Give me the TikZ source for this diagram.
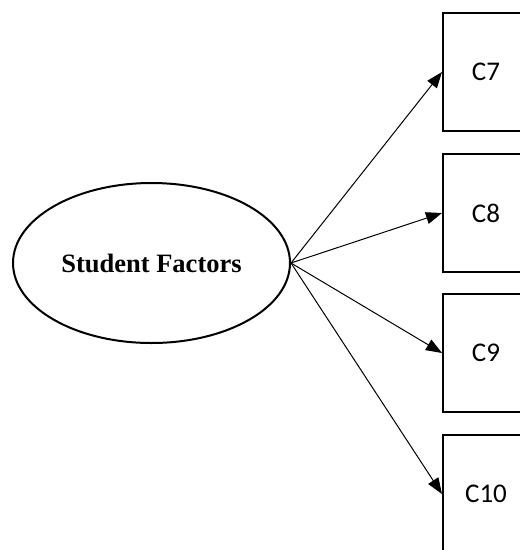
\documentclass[tikz,border=0pt]{standalone}
\usepackage{fontspec}
\setmainfont{Liberation Serif}
\newfontfamily\boxfont{Carlito}
\usetikzlibrary{arrows.meta,shapes.geometric}
\begin{document}
\begin{tikzpicture}[x=1pt,y=-1pt,
  factor/.style={draw,line width=2pt,ellipse,inner sep=0pt,minimum width=277pt,minimum height=160pt,font=\fontsize{26.5}{30}\selectfont\bfseries},
  cbox/.style={draw,line width=2pt,rectangle,inner sep=0pt,minimum width=86pt,minimum height=118pt,font=\boxfont\fontsize{27}{30}\selectfont},
  link/.style={line width=1pt,-{Triangle[length=16pt,width=12pt]}}]
\useasboundingbox (0,0) rectangle (520,550);
\node[factor] (sf) at (151.5,263) {Student Factors};
\node[cbox] (c7) at (486,72) {C7};
\node[cbox] (c8) at (486,213) {C8};
\node[cbox] (c9) at (486,353) {C9};
\node[cbox] (c10) at (486,494) {C10};
\draw[link] (sf.east) -- (c7.west);
\draw[link] (sf.east) -- (c8.west);
\draw[link] (sf.east) -- (c9.west);
\draw[link] (sf.east) -- (c10.west);
\end{tikzpicture}
\end{document}
